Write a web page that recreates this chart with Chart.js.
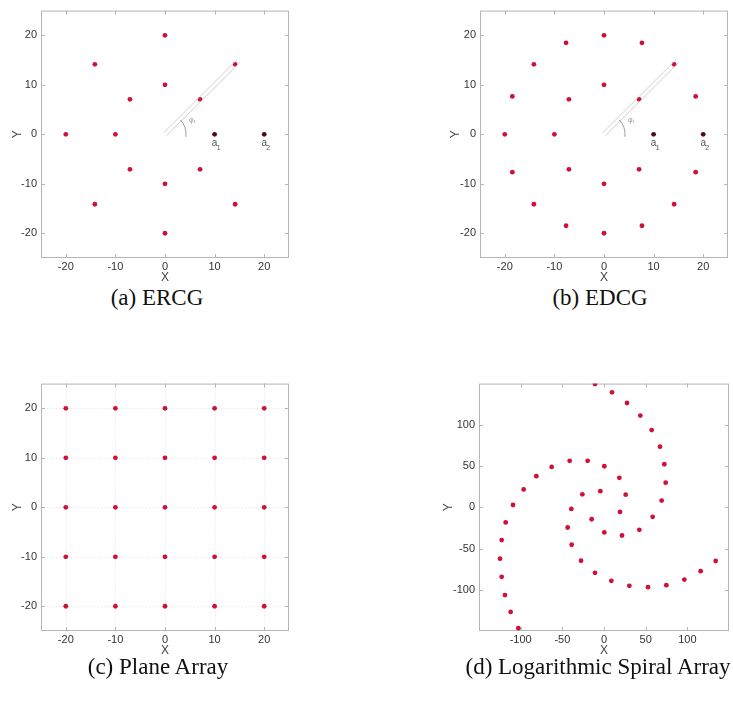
<!DOCTYPE html>
<html lang="en">
<head>
<meta charset="UTF-8">
<title>Array geometries</title>
<script src="https://cdn.jsdelivr.net/npm/chart.js@4.4.0/dist/chart.umd.min.js"></script>
<style>
  body { margin: 0; background: #fff; width: 733px; height: 704px; position: relative; overflow: hidden; }
  canvas { position: absolute; }
  .cap { position: absolute; font-family: "Liberation Serif", "Times New Roman", serif; font-size: 23px;
         line-height: 23px; color: #111; white-space: nowrap; transform: translateX(-50%); }
</style>
</head>
<body>
<canvas id="chartA" width="300" height="285" style="left:0;top:0"></canvas>
<canvas id="chartB" width="294" height="285" style="left:439px;top:0"></canvas>
<canvas id="chartC" width="300" height="285" style="left:0;top:373px"></canvas>
<canvas id="chartD" width="295" height="285" style="left:438px;top:373px"></canvas>
<div class="cap" style="left:157px;top:286px">(a) ERCG</div>
<div class="cap" style="left:600px;top:286px">(b) EDCG</div>
<div class="cap" style="left:158px;top:655px">(c) Plane Array</div>
<div class="cap" style="left:598px;top:655px">(d) Logarithmic Spiral Array</div>

<script>
// tick values
const ticksSmall = [-20, -10, 0, 10, 20];
const ticksLarge = [-100, -50, 0, 50, 100];

// (a) ERCG - two rings of 8 sensors (reference sensors a1, a2 kept apart)
const ercgX = [0, -14.14, 14.14, 0, -7.07, 7.07, -20, -10, -7.07, 7.07, 0, -14.14, 14.14, 0];
const ercgY = [20, 14.14, 14.14, 10, 7.07, 7.07, 0, 0, -7.07, -7.07, -10, -14.14, -14.14, -20];

// (b) EDCG - inner ring of 8, outer ring of 16
const edcgX = [18.48, 14.14, 7.65, 0, -7.65, -14.14, -18.48, -20, -18.48, -14.14, -7.65, 0, 7.65, 14.14, 18.48,
               7.07, 0, -7.07, -10, -7.07, 0, 7.07];
const edcgY = [7.65, 14.14, 18.48, 20, 18.48, 14.14, 7.65, 0, -7.65, -14.14, -18.48, -20, -18.48, -14.14, -7.65,
               7.07, 10, 7.07, 0, -7.07, -10, -7.07];

// reference elements a1, a2
const refX = [10, 20];
const refY = [0, 0];
const refNames = ['1', '2'];

// (c) plane array rows / columns
const planeCols = [-20, -10, 0, 10, 20];
const planeRows = [20, 10, 0, -10, -20];

// (d) logarithmic spiral
const spiralX = [-10.8, 9.6, 27.6, 43.6, 57.2, 67.2, 72.4, 74, 69.2, 58.4, 42.4, 21.6, 0.4, -14.8, -39.2,
                 -62.8, -41.2, -19.6, 0.4, 18.4, 26, 19.2, -4.4, -26, -43.6, -38.8, -27.6, -10.8, 8.8, 30.4,
                 52.8, 74.8, 96.4, 116, 134, -81.2, -96.4, -109.2, -118, -122.8, -124.8, -122.8, -118.8, -112, -102.8];
const spiralY = [149.4, 139.4, 126.5, 111.2, 93.6, 73.5, 52.2, 29.8, 8.1, -11.6, -27.3, -34.2, -30.5, -14.5, -2,
                 49, 56.3, 56.3, 49.8, 35.7, 15.3, -5.6, 19.6, 15.7, -24.5, -45.4, -64.7, -79.5, -89.2, -95.2,
                 -96.8, -94.4, -87.6, -77.5, -65.1, 37.7, 21.7, 2.8, -18.4, -39.7, -62.3, -84.3, -106.4, -126.9, -146.6];

const RED = '#d0103a';
const DARK = '#4a0d18';

function toPoints(xs, ys) {
  return xs.map((v, i) => ({ x: v, y: ys[i] }));
}

// MATLAB-like box with inward ticks on all sides
const boxPlugin = {
  id: 'matBox',
  beforeDatasetsDraw(chart, args, opts) {
    const { ctx, chartArea: a, scales: { x, y } } = chart;
    ctx.save();
    if (opts.grid) {
      ctx.strokeStyle = 'rgba(150,150,150,0.25)';
      ctx.setLineDash([1, 2]);
      ctx.beginPath();
      x.ticks.forEach(t => { const p = Math.round(x.getPixelForValue(t.value)) + 0.5; ctx.moveTo(p, a.top); ctx.lineTo(p, a.bottom); });
      y.ticks.forEach(t => { const p = Math.round(y.getPixelForValue(t.value)) + 0.5; ctx.moveTo(a.left, p); ctx.lineTo(a.right, p); });
      ctx.stroke();
      ctx.setLineDash([]);
    }
    ctx.strokeStyle = '#b5b5b5';
    ctx.lineWidth = 1;
    ctx.strokeRect(a.left + 0.5, a.top + 0.5, a.width - 1, a.height - 1);
    ctx.beginPath();
    x.ticks.forEach(t => {
      const p = Math.round(x.getPixelForValue(t.value)) + 0.5;
      ctx.moveTo(p, a.bottom); ctx.lineTo(p, a.bottom - 4);
      ctx.moveTo(p, a.top); ctx.lineTo(p, a.top + 4);
    });
    y.ticks.forEach(t => {
      const p = Math.round(y.getPixelForValue(t.value)) + 0.5;
      ctx.moveTo(a.left, p); ctx.lineTo(a.left + 4, p);
      ctx.moveTo(a.right, p); ctx.lineTo(a.right - 4, p);
    });
    ctx.stroke();
    ctx.restore();
  }
};

// direction line, angle arc and a1/a2 labels for the circular arrays
const notePlugin = {
  id: 'notes',
  afterDatasetsDraw(chart, args, opts) {
    if (!opts.show) return;
    const { ctx, scales: { x, y } } = chart;
    const ox = x.getPixelForValue(0), oy = y.getPixelForValue(0);
    const ex = x.getPixelForValue(14.8), ey = y.getPixelForValue(14.8);
    const len = Math.hypot(ex - ox, ey - oy);
    const nx = -(ey - oy) / len * 2, ny = (ex - ox) / len * 2;
    ctx.save();
    ctx.strokeStyle = '#c4c4c4';
    ctx.lineWidth = 0.8;
    ctx.beginPath();
    ctx.moveTo(ox + nx, oy + ny); ctx.lineTo(ex + nx, ey + ny);
    ctx.moveTo(ox - nx, oy - ny); ctx.lineTo(ex - nx, ey - ny);
    ctx.stroke();
    ctx.strokeStyle = '#888';
    ctx.beginPath();
    ctx.arc(ox, oy, 21, -0.75, 0.12);
    ctx.stroke();
    ctx.fillStyle = '#999';
    ctx.font = '7px "Liberation Sans"';
    ctx.fillText('\u03c6\u2081', ox + 24, oy - 12);
    ctx.fillStyle = '#555';
    refX.forEach((v, i) => {
      const px = x.getPixelForValue(v), py = y.getPixelForValue(refY[i]);
      ctx.font = '10px "Liberation Sans"';
      ctx.textAlign = 'center';
      ctx.fillText('a', px, py + 12);
      ctx.font = '7px "Liberation Sans"';
      ctx.fillText(refNames[i], px + 4, py + 16);
    });
    ctx.restore();
  }
};

function axis(lim, tickVals, title, isY, titlePad) {
  return {
    type: 'linear',
    position: isY ? 'left' : 'bottom',
    min: -lim, max: lim,
    afterBuildTicks: s => { s.ticks = tickVals.map(v => ({ value: v })); },
    afterFit: s => { if (isY) s.width = 41; else s.height = 27; },
    grid: { display: false, drawTicks: false },
    border: { display: false },
    ticks: { padding: isY ? 4 : 2, autoSkip: false, maxRotation: 0,
             font: { family: 'Liberation Sans', size: 11 }, color: '#333' },
    title: { display: true, text: title, color: '#444',
             font: { family: 'Liberation Sans', size: 12 },
             padding: isY ? { top: titlePad, bottom: 0 } : { top: 0, bottom: 0 } }
  };
}

function makePanel(id, datasets, lim, tickVals, padRight, yTitlePad, showNotes, showGrid) {
  return new Chart(document.getElementById(id), {
    type: 'scatter',
    data: { datasets: datasets },
    options: {
      responsive: false,
      animation: false,
      layout: { padding: { left: 0, right: padRight, top: 10, bottom: 0 } },
      plugins: { legend: { display: false }, tooltip: { enabled: false },
                 notes: { show: showNotes }, matBox: { grid: showGrid } },
      scales: { x: axis(lim, tickVals, 'X', false), y: axis(lim, tickVals, 'Y', true, yTitlePad) }
    },
    plugins: [boxPlugin, notePlugin]
  });
}

function dots(xs, ys, color) {
  return { data: toPoints(xs, ys), pointRadius: 2.4, pointBackgroundColor: color, pointBorderWidth: 0, showLine: false };
}

const planeX = [], planeY = [];
planeRows.forEach(r => planeCols.forEach(c => { planeX.push(c); planeY.push(r); }));

makePanel('chartA', [dots(ercgX, ercgY, RED), dots(refX, refY, DARK)], 25, ticksSmall, 11, 10, true, false);
makePanel('chartB', [dots(edcgX, edcgY, RED), dots(refX, refY, DARK)], 25, ticksSmall, 5, 9, true, false);
makePanel('chartC', [dots(planeX, planeY, RED)], 25, ticksSmall, 11, 10, false, true);
makePanel('chartD', [dots(spiralX, spiralY, RED)], 150, ticksLarge, 4, 3, false, false);
</script>
</body>
</html>
